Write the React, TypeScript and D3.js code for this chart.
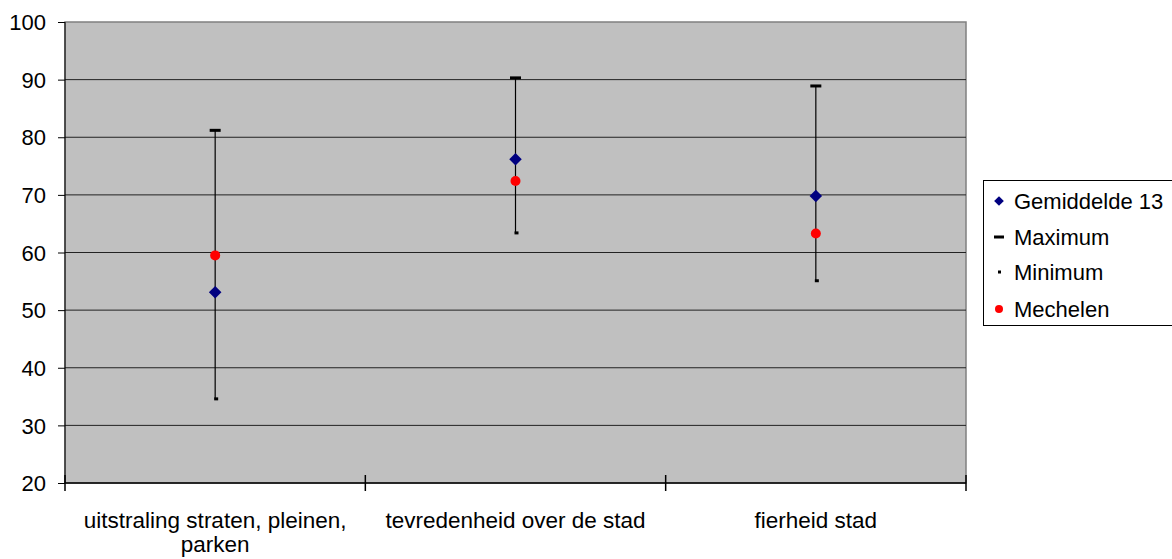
import { useEffect, useRef } from 'react';
import * as d3 from 'd3';

const categories = ["uitstraling straten, pleinen, parken", "tevredenheid over de stad", "fierheid stad"];
const gemiddelde = [53.1, 76.2, 69.8];
const maximum = [81.2, 90.3, 88.9];
const minimum = [34.6, 63.4, 55.1];
const mechelen = [59.5, 72.4, 63.3];
const yTicks = [20, 30, 40, 50, 60, 70, 80, 90, 100];
const legendItems = ["Gemiddelde 13", "Maximum", "Minimum", "Mechelen"];

const W = 1172, H = 559;

const App = () => {
    const ref = useRef(null);

    useEffect(() => {
        const svg = d3.select(ref.current);
        svg.selectAll("*").remove();
        svg.style("font-family", "'Liberation Sans', Arial, sans-serif");

        let margin = { top: 22, left: 65, right: 206, bottom: 76 };
        let width = W - margin.left - margin.right;
        let height = H - margin.top - margin.bottom;

        let x = d3.scaleBand().domain(categories).range([margin.left, margin.left + width]);
        let y = d3.scaleLinear().domain([20, 100]).range([margin.top + height, margin.top]);
        let cx = (i: number) => x(categories[i])! + x.bandwidth() / 2;

        // plot area
        svg.append("rect")
            .attr("x", margin.left).attr("y", margin.top)
            .attr("width", width).attr("height", height)
            .attr("fill", "#c0c0c0")
            .attr("stroke", "#808080").attr("stroke-width", 1.5);

        // gridlines
        svg.append("g").selectAll("line")
            .data(yTicks.filter(t => t !== 100 && t !== 20))
            .join("line")
            .attr("x1", margin.left).attr("x2", margin.left + width)
            .attr("y1", d => y(d)).attr("y2", d => y(d))
            .attr("stroke", "#222").attr("stroke-width", 1);

        // y axis
        const yAxis = svg.append("g")
            .attr("transform", "translate(" + margin.left + ",0)")
            .call(d3.axisLeft(y).tickValues(yTicks).tickSize(7).tickPadding(12));
        yAxis.select(".domain").attr("stroke", "#000").attr("d", "M0," + y(20) + "V" + y(100));
        yAxis.selectAll("line").attr("stroke", "#000");
        yAxis.selectAll("text").style("font-size", "22px").attr("fill", "#000").attr("dy", "0.35em");

        // x axis
        svg.append("line")
            .attr("x1", margin.left).attr("x2", margin.left + width)
            .attr("y1", y(20)).attr("y2", y(20))
            .attr("stroke", "#000").attr("stroke-width", 1.5);
        const bounds = categories.map(c => x(c)!).concat([margin.left + width]);
        svg.append("g").selectAll("line")
            .data(bounds)
            .join("line")
            .attr("x1", d => d).attr("x2", d => d)
            .attr("y1", y(20) - 8).attr("y2", y(20) + 8)
            .attr("stroke", "#000").attr("stroke-width", 1.5);

        const labels = svg.append("g").selectAll("text")
            .data(categories)
            .join("text")
            .attr("x", (d, i) => cx(i))
            .attr("y", y(20) + 45)
            .attr("text-anchor", "middle")
            .style("font-size", "22.5px")
            .attr("fill", "#000");
        labels.each(function (d) {
            const t = d3.select(this);
            const lines = d === categories[0] ? ["uitstraling straten, pleinen,", "parken"] : [d];
            lines.forEach((l, k) => {
                t.append("tspan").attr("x", t.attr("x")).attr("dy", k === 0 ? 0 : 24).text(l);
            });
        });

        // high-low lines
        svg.append("g").selectAll("line")
            .data(categories)
            .join("line")
            .attr("x1", (d, i) => cx(i)).attr("x2", (d, i) => cx(i))
            .attr("y1", (d, i) => y(maximum[i])).attr("y2", (d, i) => y(minimum[i]))
            .attr("stroke", "#000").attr("stroke-width", 1.2);

        // maximum markers
        svg.append("g").selectAll("rect")
            .data(maximum)
            .join("rect")
            .attr("x", (d, i) => cx(i) - 5.5).attr("y", d => y(d) - 1.5)
            .attr("width", 11).attr("height", 3)
            .attr("fill", "#000");

        // minimum markers
        svg.append("g").selectAll("rect")
            .data(minimum)
            .join("rect")
            .attr("x", (d, i) => cx(i) - 1).attr("y", d => y(d) - 1.5)
            .attr("width", 4).attr("height", 3)
            .attr("fill", "#000");

        // gemiddelde diamonds
        const diamond = d3.symbol().type(d3.symbolDiamond2).size(100);
        svg.append("g").selectAll("path")
            .data(gemiddelde)
            .join("path")
            .attr("d", diamond)
            .attr("transform", (d, i) => "translate(" + cx(i) + "," + y(d) + ")")
            .attr("fill", "#000080");

        // mechelen circles
        svg.append("g").selectAll("circle")
            .data(mechelen)
            .join("circle")
            .attr("cx", (d, i) => cx(i)).attr("cy", d => y(d))
            .attr("r", 5)
            .attr("fill", "#ff0000");

        // legend
        const lg = svg.append("g");
        lg.append("rect")
            .attr("x", 983.5).attr("y", 180.5)
            .attr("width", 200).attr("height", 145)
            .attr("fill", "#fff").attr("stroke", "#000").attr("stroke-width", 1);
        const rowY = [201, 237, 272, 309];
        legendItems.forEach((name, i) => {
            const yy = rowY[i];
            if (i === 0) {
                lg.append("path").attr("d", d3.symbol().type(d3.symbolDiamond2).size(60))
                    .attr("transform", "translate(999," + yy + ")").attr("fill", "#000080");
            } else if (i === 1) {
                lg.append("rect").attr("x", 994).attr("y", yy - 1.5).attr("width", 10).attr("height", 3).attr("fill", "#000");
            } else if (i === 2) {
                lg.append("rect").attr("x", 998).attr("y", yy - 1.5).attr("width", 3).attr("height", 3).attr("fill", "#000");
            } else {
                lg.append("circle").attr("cx", 999).attr("cy", yy).attr("r", 4).attr("fill", "#ff0000");
            }
            lg.append("text")
                .attr("x", 1014).attr("y", yy).attr("dy", "0.35em")
                .style("font-size", "22px").attr("fill", "#000")
                .text(name);
        });
    }, []);

    return (
        <svg ref={ref} width={W} height={H} style={{ position: "absolute", left: 0, top: 0, background: "#fff" }} />
    );
};

export default App;
